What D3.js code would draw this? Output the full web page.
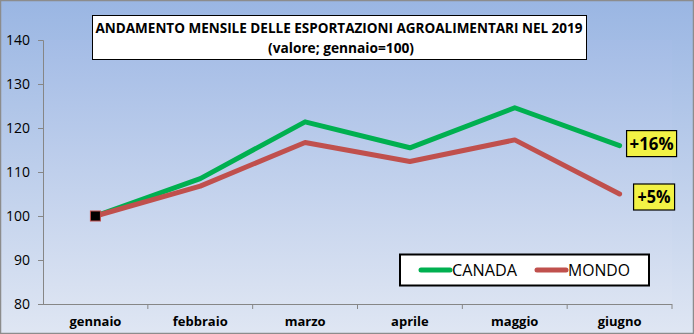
<!DOCTYPE html>
<html>
<head>
<meta charset="utf-8">
<script src="https://cdn.jsdelivr.net/npm/d3@7"></script>
<style>
  html, body { margin: 0; padding: 0; background: #fff; }
  svg { display: block; }
</style>
</head>
<body>
<svg id="chart" width="694" height="334"></svg>
<script>
// Monthly agri-food export index, January = 100
const months = ["gennaio", "febbraio", "marzo", "aprile", "maggio", "giugno"];
const canada = [100, 108.5, 121.4, 115.5, 124.6, 116];
const mondo = [100, 106.8, 116.7, 112.4, 117.3, 105];
const yTicks = [80, 90, 100, 110, 120, 130, 140];
const seriesNames = ["CANADA", "MONDO"];
const seriesColors = ["#00b050", "#c0504d"];
const endLabels = ["+16%", "+5%"];

const W = 694, H = 334;
const svg = d3.select("#chart");
const font = "'Open Sans', 'DejaVu Sans Condensed', sans-serif";

const defs = svg.append("defs");
const bg = defs.append("linearGradient").attr("id", "bg").attr("x1", 0).attr("y1", 0).attr("x2", 0).attr("y2", 1);
bg.append("stop").attr("offset", "0%").attr("stop-color", "#9ab6e3");
bg.append("stop").attr("offset", "100%").attr("stop-color", "#dfe6f3");
const pg = defs.append("linearGradient").attr("id", "pg").attr("x1", 0).attr("y1", 0).attr("x2", 0).attr("y2", 1);
pg.append("stop").attr("offset", "0%").attr("stop-color", "#a4bce6");
pg.append("stop").attr("offset", "100%").attr("stop-color", "#dbe3f2");

// Chart background and frame
svg.append("rect").attr("x", 0.5).attr("y", 0.5).attr("width", W - 1).attr("height", H - 1)
  .attr("fill", "url(#bg)").attr("stroke", "#8c8c8c").attr("stroke-width", 1.5);

const plot = { left: 43, right: 672, top: 40, bottom: 304 };
svg.append("rect").attr("x", plot.left).attr("y", plot.top)
  .attr("width", plot.right - plot.left).attr("height", plot.bottom - plot.top)
  .attr("fill", "url(#pg)");

const x = d3.scaleBand().domain(months).range([plot.left, plot.right]);
const y = d3.scaleLinear().domain([80, 140]).range([plot.bottom, plot.top]);

// Y axis
const yAxis = svg.append("g").attr("transform", `translate(${plot.left},0)`)
  .call(d3.axisLeft(y).tickValues(yTicks).tickSize(5).tickPadding(8));
yAxis.select(".domain").attr("stroke", "#868686");
yAxis.selectAll(".tick line").attr("stroke", "#868686");
yAxis.selectAll("text").attr("font-family", font).attr("font-size", 14).attr("fill", "#000");

// X axis with boundary ticks between categories
const xAxis = svg.append("g").attr("transform", `translate(0,${plot.bottom})`)
  .call(d3.axisBottom(x).tickSize(0).tickPadding(13));
xAxis.select(".domain").attr("stroke", "#868686").attr("d", `M${plot.left},0.5H${plot.right}`);
xAxis.selectAll("text").attr("font-family", font).attr("font-size", 13).attr("font-weight", "bold").attr("fill", "#000");
xAxis.selectAll(".bound").data(months).enter().append("line")
  .attr("x1", d => x(d) + x.bandwidth()).attr("x2", d => x(d) + x.bandwidth())
  .attr("y1", 0).attr("y2", 5).attr("stroke", "#868686");

// Lines
const line = d3.line().x((d, i) => x(months[i]) + x.bandwidth() / 2).y(d => y(d));
[canada, mondo].forEach((s, k) => {
  svg.append("path").datum(s).attr("d", line).attr("fill", "none")
    .attr("stroke", seriesColors[k]).attr("stroke-width", 5)
    .attr("stroke-linecap", "round").attr("stroke-linejoin", "round");
});

// Base month marker
svg.append("rect")
  .attr("x", x(months[0]) + x.bandwidth() / 2 - 5).attr("y", y(mondo[0]) - 5)
  .attr("width", 10).attr("height", 10)
  .attr("fill", "#000").attr("stroke", "#c0504d").attr("stroke-width", 1);

// End-of-period change labels
const lastX = x(months[5]) + x.bandwidth() / 2;
const labelDefs = [
  { text: endLabels[0], v: canada[5], w: 50, dx: 7, dy: -2, tl: 44 },
  { text: endLabels[1], v: mondo[5], w: 41, dx: 14, dy: 3, tl: 33 }
];
labelDefs.forEach(l => {
  const cy = y(l.v) + l.dy;
  svg.append("rect").attr("x", lastX + l.dx).attr("y", cy - 13).attr("width", l.w).attr("height", 26)
    .attr("fill", "#f2f245").attr("stroke", "#000").attr("stroke-width", 1.2);
  svg.append("text").attr("x", lastX + l.dx + l.w / 2).attr("y", cy + 6)
    .attr("text-anchor", "middle").attr("font-family", font).attr("font-size", 17)
    .attr("font-weight", "bold").attr("fill", "#000")
    .attr("textLength", l.tl).attr("lengthAdjust", "spacingAndGlyphs").text(l.text);
});

// Title box
svg.append("rect").attr("x", 92.5).attr("y", 15.5).attr("width", 494).attr("height", 44)
  .attr("fill", "#fff").attr("stroke", "#000").attr("stroke-width", 1);
svg.append("text").attr("x", 339).attr("y", 33).attr("text-anchor", "middle")
  .attr("font-family", font).attr("font-size", 15).attr("font-weight", "bold")
  .attr("textLength", 487).attr("lengthAdjust", "spacingAndGlyphs")
  .text("ANDAMENTO MENSILE DELLE ESPORTAZIONI AGROALIMENTARI NEL 2019");
svg.append("text").attr("x", 341).attr("y", 53).attr("text-anchor", "middle")
  .attr("font-family", font).attr("font-size", 15).attr("font-weight", "bold")
  .attr("textLength", 146).attr("lengthAdjust", "spacingAndGlyphs")
  .text("(valore; gennaio=100)");

// Legend
const lg = svg.append("g");
lg.append("rect").attr("x", 400).attr("y", 254.5).attr("width", 249).attr("height", 31)
  .attr("fill", "#fff").attr("stroke", "#000").attr("stroke-width", 2);
const legendX = [421, 537];
const legendLen = [65, 62];
seriesNames.forEach((n, k) => {
  lg.append("line").attr("x1", legendX[k]).attr("x2", legendX[k] + 29).attr("y1", 270).attr("y2", 270)
    .attr("stroke", seriesColors[k]).attr("stroke-width", 5).attr("stroke-linecap", "round");
  lg.append("text").attr("x", legendX[k] + 31).attr("y", 276)
    .attr("font-family", font).attr("font-size", 17).attr("fill", "#000")
    .attr("textLength", legendLen[k]).attr("lengthAdjust", "spacingAndGlyphs").text(n);
});
</script>
</body>
</html>
